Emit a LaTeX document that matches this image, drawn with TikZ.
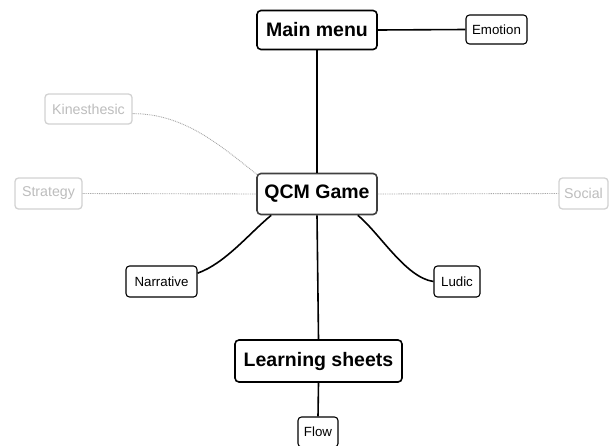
\documentclass[tikz,border=0pt]{standalone}
\usepackage{fontspec}
\setmainfont{Liberation Sans}
\usetikzlibrary{calc}
\definecolor{ghostline}{HTML}{D2D2D2}
\definecolor{ghosttext}{HTML}{BDBDBD}
\definecolor{ghostdot}{HTML}{A8A8A8}
\definecolor{qcmline}{HTML}{404040}
\tikzset{
  bigbox/.style={draw=black, line width=1.6pt, rounded corners=4pt, fill=white, font=\fontsize{19.5}{22}\selectfont\bfseries, inner sep=0pt},
  smallbox/.style={draw=black, line width=1.1pt, rounded corners=3.5pt, fill=white, font=\fontsize{13.3}{15}\selectfont, inner sep=0pt},
  ghostbox/.style={draw=ghostline, line width=1.3pt, rounded corners=3.5pt, fill=white, text=ghosttext, font=\fontsize{14.2}{16}\selectfont, inner sep=0pt},
  link/.style={draw=black, line width=1.6pt},
  ghostlink/.style={draw=ghostdot, line width=0.9pt, dash pattern=on 0.9pt off 0.9pt},
}
\begin{document}
\begin{tikzpicture}[x=1pt,y=-1pt]
\useasboundingbox (0,0) rectangle (609,445);
\node[bigbox, minimum width=120pt, minimum height=39pt] (main) at (317,30) {Main menu};
\node[bigbox, draw=qcmline, minimum width=120pt, minimum height=41pt] (qcm) at (317,194) {QCM Game};
\node[bigbox, minimum width=167pt, minimum height=42pt] (learn) at (318.5,361) {Learning sheets};
\node[smallbox, minimum width=61pt, minimum height=29pt] (emo) at (496.5,29.5) {Emotion};
\node[smallbox, minimum width=71pt, minimum height=31pt] (narr) at (161.5,281.5) {Narrative};
\node[smallbox, minimum width=46pt, minimum height=31pt] (ludic) at (457,281.5) {Ludic};
\node[smallbox, minimum width=40pt, minimum height=30pt] (flow) at (318,432) {Flow};
\node[ghostbox, minimum width=87pt, minimum height=30pt] (kin) at (88.5,109) {Kinesthesic};
\node[ghostbox, minimum width=67pt, minimum height=31pt] (strat) at (48.5,193.5) {Strategy};
\node[ghostbox, minimum width=49pt, minimum height=31pt] (soc) at (583.5,193.5) {Social};
\draw[link] (main.east) -- (emo.west);
\draw[link] (main.south) -- (qcm.north);
\draw[link] (qcm.south) -- (learn.north);
\draw[link] (learn.south) -- (flow.north);
\draw[link] (narr.13) .. controls +(28,-10) and +(-22,18) .. ($(qcm.south west)+(15,0)$);
\draw[link] (ludic.west) .. controls +(-28,-4) and +(22,18) .. ($(qcm.south east)+(-20,0)$);
\draw[ghostlink] (kin.-6) .. controls +(50,0) and +(-40,-32) .. ($(qcm.north west)+(1,2)$);
\draw[ghostlink] (strat.east) -- (qcm.west);
\draw[ghostlink] (qcm.east) -- (soc.west);
\end{tikzpicture}
\end{document}
